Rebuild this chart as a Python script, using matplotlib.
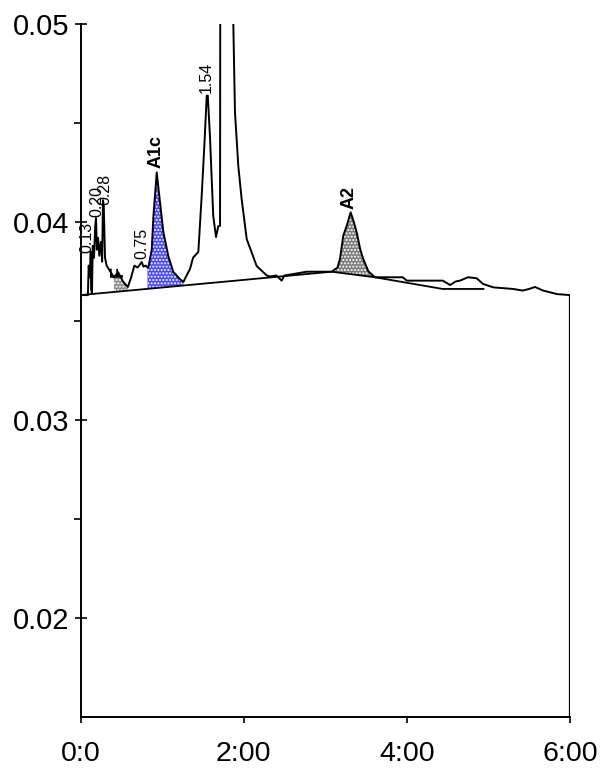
import numpy as np
import matplotlib.pyplot as plt
from matplotlib.ticker import FixedLocator

plt.rcParams['font.family'] = ['Liberation Sans', 'DejaVu Sans']
plt.rcParams['hatch.linewidth'] = 1.0

# detector trace: time (min), absorbance
time = [0.0, 0.09, 0.10, 0.115, 0.125, 0.13, 0.14, 0.15, 0.165, 0.18,
        0.19, 0.20, 0.215, 0.23, 0.25, 0.265, 0.275, 0.285, 0.30, 0.32,
        0.35, 0.38, 0.41, 0.46, 0.52, 0.58, 0.62, 0.66, 0.70, 0.75,
        0.77, 0.80, 0.82, 0.831, 0.873, 0.892, 0.934, 0.974, 1.015, 1.076,
        1.137, 1.219, 1.26, 1.30, 1.342, 1.38, 1.444, 1.485, 1.52, 1.547,
        1.56, 1.587, 1.608, 1.627, 1.661, 1.689, 1.71, 1.715, 1.79, 1.865,
        1.873, 1.893, 1.934, 1.975, 2.037, 2.159, 2.282, 2.322, 2.40, 2.466,
        2.50, 2.604, 2.772, 3.0, 3.078, 3.15, 3.18, 3.221, 3.27, 3.311,
        3.35, 3.385, 3.43, 3.466, 3.53, 3.588, 3.609, 3.95, 4.0, 4.44,
        4.53, 4.60, 4.651, 4.75, 4.855, 4.936, 5.06, 5.30, 5.42, 5.50,
        5.57, 5.67, 5.84, 6.0]
signal = [0.03631, 0.03631, 0.03780, 0.03720, 0.03850, 0.03660, 0.03640, 0.03880, 0.03820, 0.03980,
          0.04020, 0.03860, 0.03920, 0.03830, 0.03900, 0.03800, 0.04110, 0.04080, 0.03820, 0.03780,
          0.03760, 0.03740, 0.03720, 0.03747, 0.03700, 0.03672, 0.03720, 0.03780, 0.03770, 0.03798,
          0.03775, 0.03780, 0.03770, 0.03770, 0.03860, 0.04020, 0.04251, 0.04101, 0.03950, 0.03828,
          0.03748, 0.03712, 0.03697, 0.03730, 0.03763, 0.03820, 0.03849, 0.04131, 0.04404, 0.04638,
          0.04638, 0.04429, 0.04217, 0.04030, 0.03924, 0.03980, 0.03980, 0.06000, 0.08000, 0.06000,
          0.05000, 0.04556, 0.04283, 0.04116, 0.03914, 0.03778, 0.03730, 0.03725, 0.03730, 0.03704,
          0.03730, 0.03737, 0.03749, 0.03749, 0.03749, 0.03770, 0.03813, 0.03931, 0.03990, 0.04049,
          0.04000, 0.03948, 0.03860, 0.03813, 0.03750, 0.03729, 0.03721, 0.03721, 0.03704, 0.03704,
          0.03682, 0.03700, 0.03704, 0.03721, 0.03716, 0.03687, 0.03670, 0.03662, 0.03654, 0.03662,
          0.03672, 0.03654, 0.03636, 0.03631]

# integration baseline knots
base_time = [0.0, 3.078, 3.609, 4.44, 4.94]
base_signal = [0.03631, 0.03749, 0.03721, 0.03662, 0.03662]

# integrated peaks
peak_start = [0.41, 0.82, 3.078]
peak_end = [0.58, 1.26, 3.609]
peak_color = ['#8c8c8c', '#4646ff', '#7a7a7a']

# peak labels
label_text = ['0.13', '0.20', '0.28', 'F', '0.75', 'A1c', '1.54', 'A2']
label_time = [0.08, 0.20, 0.30, 0.46, 0.75, 0.93, 1.54, 3.29]
label_height = [0.0383, 0.0401, 0.0407, 0.0371, 0.0380, 0.0426, 0.0464, 0.0405]
label_bold = [False, False, False, True, False, True, False, True]

t = np.array(time)
s = np.array(signal)

fig = plt.figure(figsize=(6.01, 7.70), dpi=100)
ax = fig.add_axes([0.134, 0.0688, 0.8144, 0.9000])

for a, b, c in zip(peak_start, peak_end, peak_color):
    tt = np.concatenate([[a], t[(t > a) & (t < b)], [b]])
    ss = np.interp(tt, t, s)
    bb = np.interp(tt, base_time, base_signal)
    ax.fill_between(tt, bb, ss, facecolor=c, edgecolor='white', hatch='.....', linewidth=0)

ax.plot(base_time, base_signal, color='black', lw=1.3)
ax.plot(t, s, color='black', lw=1.4)
ax.vlines(t[-1], 0.015, s[-1], color='black', lw=1.6)

for txt, lt, lh, bold in zip(label_text, label_time, label_height, label_bold):
    ax.annotate(txt, (lt, lh), xytext=(0, 2), textcoords='offset points',
                rotation=90, ha='center', va='bottom',
                fontsize=13 if bold else 11.5,
                fontweight='bold' if bold else 'normal')

ax.set_xlim(0, 6)
ax.set_ylim(0.015, 0.05)
ax.spines['top'].set_visible(False)
ax.spines['right'].set_visible(False)
ax.spines['left'].set_linewidth(1.4)
ax.spines['bottom'].set_linewidth(1.4)

ax.yaxis.set_major_locator(FixedLocator([0.02, 0.03, 0.04, 0.05]))
ax.yaxis.set_minor_locator(FixedLocator([0.025, 0.035, 0.045]))
ax.set_yticklabels(['0.02', '0.03', '0.04', '0.05'])
ax.set_xticks([0, 2, 4, 6])
ax.set_xticklabels(['0:0', '2:00', '4:00', '6:00'])
ax.tick_params(axis='y', which='major', direction='inout', length=8, width=1.2,
               labelsize=21, pad=4)
ax.tick_params(axis='y', which='minor', direction='out', length=5, width=1.2)
ax.tick_params(axis='x', which='major', direction='out', length=4, width=1.2,
               labelsize=20.5, pad=13)

fig.savefig('out.png', dpi=100)
